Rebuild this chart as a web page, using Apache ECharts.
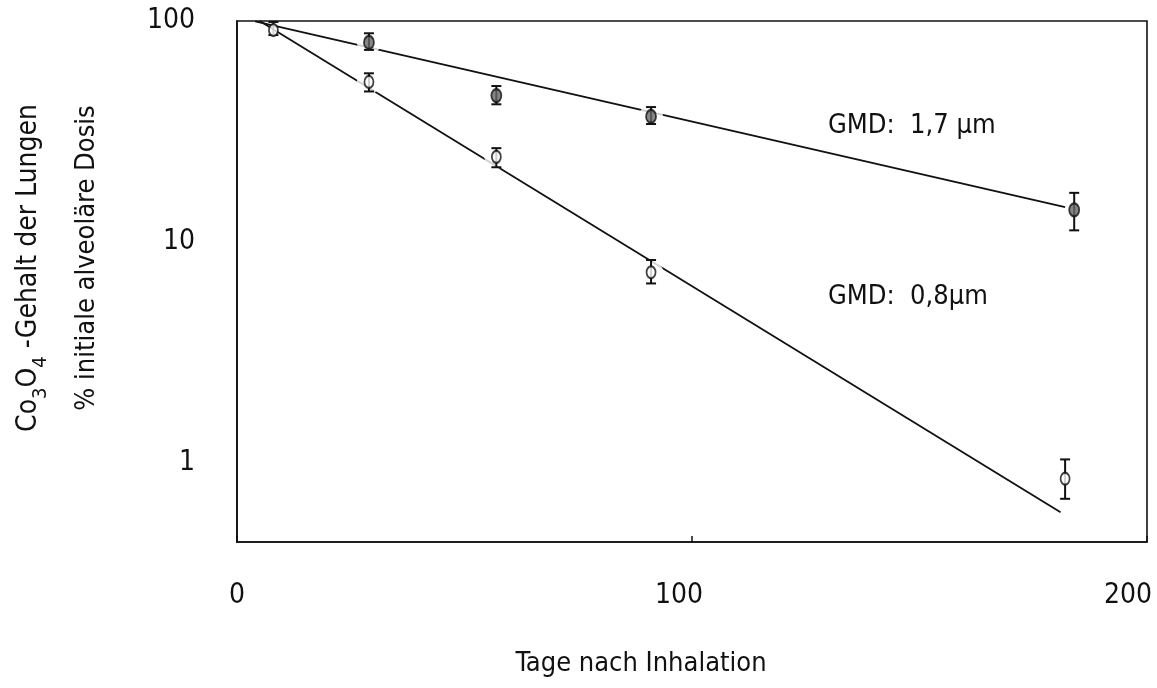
<!DOCTYPE html>
<html>
<head>
<meta charset="utf-8">
<script src="https://cdn.jsdelivr.net/npm/echarts@6/dist/echarts.min.js"></script>
<style>
  html, body { margin: 0; padding: 0; background: #fff; }
  #chart { width: 1157px; height: 688px; }
</style>
</head>
<body>
<div id="chart"></div>
<script>
// Retention of Co3O4 in the lungs (log scale), two particle sizes

// Measured points: day, mean, lower and upper error limit (% of initial dose)
const days08 = [8, 29, 57, 91, 182];
const mean08 = [91, 53, 24.3, 7.3, 0.85];
const low08  = [86.4, 48, 21.8, 6.5, 0.69];
const high08 = [99, 58, 26.6, 8.3, 1.04];

const days17 = [29, 57, 91, 184];
const mean17 = [80, 46, 37, 14];
const low17  = [74, 42, 34.2, 11.3];
const high17 = [88, 50.8, 40.8, 16.7];

// Fitted exponential retention lines (start and end point)
const fit08 = [[5, 100], [181, 0.60]];
const fit17 = [[4, 99.5], [182, 14.4]];

// Axis ticks
const xTicks = [0, 100, 200];
const yTicks = [1, 10, 100];

const labelText17 = 'GMD:  1,7 µm';
const labelText08 = 'GMD:  0,8µm';
const xTitle = 'Tage nach Inhalation';

const FONT = "'Liberation Sans Narrow', 'DejaVu Sans Condensed', 'Liberation Sans', sans-serif";
const INK = '#111';

const pts = (d, v) => d.map((x, i) => [x, v[i]]);
const bars = (d, lo, hi) => d.map((x, i) => [x, lo[i], hi[i]]);
// interior points get a white gap around the marker where the fit line passes
const interior = (d, v) => d.slice(1, d.length - 1).map((x, i) => [x, v[i + 1]]);

function errorBar(params, api) {
  const x = api.value(0);
  const top = api.coord([x, api.value(2)]);
  const bot = api.coord([x, api.value(1)]);
  const w = 5;
  const st = { stroke: INK, lineWidth: 2 };
  return {
    type: 'group',
    children: [
      { type: 'line', shape: { x1: top[0], y1: top[1], x2: bot[0], y2: bot[1] }, style: st },
      { type: 'line', shape: { x1: top[0] - w, y1: top[1], x2: top[0] + w, y2: top[1] }, style: st },
      { type: 'line', shape: { x1: bot[0] - w, y1: bot[1], x2: bot[0] + w, y2: bot[1] }, style: st }
    ]
  };
}

const chart = echarts.init(document.getElementById('chart'));

chart.setOption({
  backgroundColor: '#fff',
  animation: false,
  grid: {
    left: 237, top: 21, right: 10, bottom: 146,
    show: true, borderColor: INK, borderWidth: 1.6, backgroundColor: 'transparent'
  },
  xAxis: {
    type: 'value', min: xTicks[0], max: xTicks[xTicks.length - 1], interval: 100,
    axisLine: { show: true, lineStyle: { color: INK, width: 1.6 } },
    axisTick: { show: true, inside: true, length: 6, lineStyle: { color: INK, width: 1.5 } },
    splitLine: { show: false },
    axisLabel: {
      margin: 40, color: INK, fontFamily: FONT, fontSize: 28,
      formatter: v => v === 100 ? '{m|100}' : v === 200 ? '{r|200}' : '{n|' + v + '}',
      rich: {
        n: { fontFamily: FONT, fontSize: 28, color: INK },
        m: { fontFamily: FONT, fontSize: 28, color: INK, padding: [0, 26, 0, 0] },
        r: { fontFamily: FONT, fontSize: 28, color: INK, padding: [0, 38, 0, 0] }
      }
    }
  },
  yAxis: {
    type: 'log', logBase: 10, min: 0.44, max: yTicks[yTicks.length - 1],
    axisLine: { show: true, lineStyle: { color: INK, width: 1.6 } },
    axisTick: { show: false },
    splitLine: { show: false },
    axisLabel: {
      margin: 42, color: INK, fontFamily: FONT, fontSize: 28,
      showMinLabel: true,
      formatter: v => {
        const hit = yTicks.find(t => Math.abs(Math.log10(v) - Math.log10(t)) < 1e-6);
        return hit === undefined ? '' : String(hit);
      }
    }
  },
  series: [
    {
      name: 'Fit 1,7 µm', type: 'line', data: fit17, symbol: 'none', z: 1, silent: true,
      lineStyle: { color: INK, width: 1.8 }
    },
    {
      name: 'Fit 0,8 µm', type: 'line', data: fit08, symbol: 'none', z: 1, silent: true,
      lineStyle: { color: INK, width: 1.8 }
    },
    {
      name: 'gap', type: 'scatter', z: 2, silent: true,
      data: interior(days08, mean08).concat(interior(days17, mean17).concat([[days17[0], mean17[0]]])),
      symbol: 'circle', symbolSize: 24,
      itemStyle: { color: '#fff', borderWidth: 0 }
    },
    {
      name: 'Streuung 0,8 µm', type: 'custom', z: 3, silent: true,
      data: bars(days08, low08, high08), renderItem: errorBar
    },
    {
      name: 'Streuung 1,7 µm', type: 'custom', z: 3, silent: true,
      data: bars(days17, low17, high17), renderItem: errorBar
    },
    {
      name: 'GMD 0,8 µm', type: 'scatter', z: 4,
      data: pts(days08, mean08), symbol: 'circle', symbolSize: [9, 12],
      itemStyle: { color: '#fff', borderColor: INK, borderWidth: 2 }
    },
    {
      name: 'GMD 1,7 µm', type: 'scatter', z: 4,
      data: pts(days17, mean17), symbol: 'circle', symbolSize: [10, 13],
      itemStyle: { color: '#666', borderColor: INK, borderWidth: 2 }
    }
  ],
  graphic: [
    {
      type: 'text', x: 29, y: 268, rotation: Math.PI / 2,
      style: {
        text: 'Co{s|3}O{s|4} -Gehalt der Lungen',
        fontFamily: FONT, fontSize: 28, fill: INK,
        align: 'center', verticalAlign: 'middle',
        rich: {
          s: { fontFamily: FONT, fontSize: 20, fill: INK, verticalAlign: 'bottom', lineHeight: 44 }
        }
      }
    },
    {
      type: 'text', x: 87, y: 258, rotation: Math.PI / 2,
      style: {
        text: '% initiale alveoläre Dosis',
        fontFamily: FONT, fontSize: 27, fill: INK,
        align: 'center', verticalAlign: 'middle'
      }
    },
    {
      type: 'text', x: 641, y: 664,
      style: {
        text: xTitle, fontFamily: FONT, fontSize: 27, fill: INK,
        align: 'center', verticalAlign: 'middle'
      }
    },
    {
      type: 'text', x: 828, y: 126,
      style: {
        text: labelText17, fontFamily: FONT, fontSize: 27, fill: INK,
        align: 'left', verticalAlign: 'middle'
      }
    },
    {
      type: 'text', x: 828, y: 297,
      style: {
        text: labelText08, fontFamily: FONT, fontSize: 27, fill: INK,
        align: 'left', verticalAlign: 'middle'
      }
    }
  ]
});
</script>
</body>
</html>
